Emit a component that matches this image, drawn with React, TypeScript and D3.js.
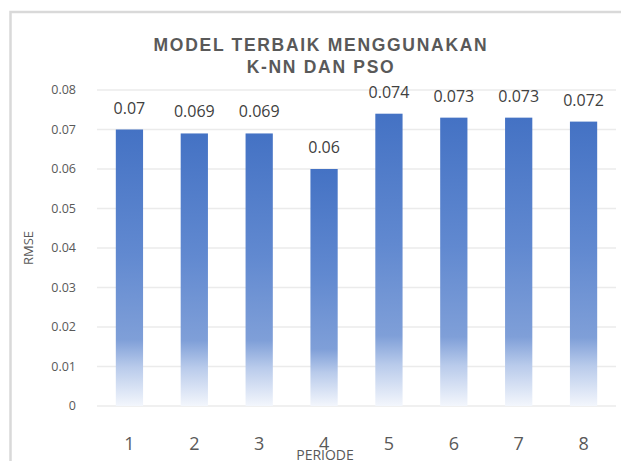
import React from 'react';
import * as d3 from 'd3';

const periods = ['1', '2', '3', '4', '5', '6', '7', '8'];
const rmse = [0.07, 0.069, 0.069, 0.06, 0.074, 0.073, 0.073, 0.072];
const yTicks = [0, 0.01, 0.02, 0.03, 0.04, 0.05, 0.06, 0.07, 0.08];
const titleLines = ['MODEL TERBAIK MENGGUNAKAN', 'K-NN DAN PSO'];

const W = 621;
const H = 461;
const TITLE_FONT = '"Liberation Sans", Arial, sans-serif';
const FONT = '"Open Sans", "Noto Sans", sans-serif';

const App = () => {
  const x = d3.scaleBand().domain(periods).range([97, 616]).paddingInner(0.58).paddingOuter(0.29);
  const y = d3.scaleLinear().domain([0, 0.08]).range([406, 90]);
  const fmt = (v: number) => d3.format('')(+v.toFixed(3));

  return (
    <svg width={W} height={H} style={{ position: 'absolute', left: 0, top: 0, background: '#fff' }}>
      <defs>
        <linearGradient id="barFill" x1="0" y1="0" x2="0" y2="1">
          <stop offset="0%" stopColor="#4472C4" />
          <stop offset="45%" stopColor="#6189d0" />
          <stop offset="76%" stopColor="#7f9fd8" />
          <stop offset="86%" stopColor="#b9cbeb" />
          <stop offset="100%" stopColor="#f3f6fc" />
        </linearGradient>
      </defs>

      {/* chart frame */}
      <rect x={10.5} y={12} width={700} height={600} fill="#fff" stroke="#d9d9d9" strokeWidth={2.5} />

      {/* title */}
      {titleLines.map((t, i) => (
        <text
          key={t}
          x={321}
          y={51 + i * 22}
          textAnchor="middle"
          fontFamily={TITLE_FONT}
          fontWeight="bold"
          fontSize={17.5}
          letterSpacing={1.7}
          fill="#595959"
        >
          {t}
        </text>
      ))}

      {/* gridlines + y ticks */}
      {yTicks.map((t) => (
        <g key={t}>
          <line x1={97} x2={616} y1={y(t)} y2={y(t)} stroke="#ebebeb" strokeWidth={1.5} />
          <text x={76} y={y(t)} dy="0.35em" textAnchor="end" fontFamily={FONT} fontSize={12.5} fill="#595959">
            {fmt(t)}
          </text>
        </g>
      ))}

      {/* bars */}
      {periods.map((p, i) => (
        <rect
          key={p}
          x={x(p)}
          y={y(rmse[i])}
          width={x.bandwidth()}
          height={y(0) - y(rmse[i])}
          fill="url(#barFill)"
        />
      ))}

      {/* data labels */}
      {periods.map((p, i) => (
        <text
          key={p}
          x={(x(p) as number) + x.bandwidth() / 2}
          y={y(rmse[i]) - 16}
          textAnchor="middle"
          fontFamily={FONT}
          fontSize={16}
          fill="#404040"
        >
          {fmt(rmse[i])}
        </text>
      ))}

      {/* x tick labels */}
      {periods.map((p) => (
        <text
          key={p}
          x={(x(p) as number) + x.bandwidth() / 2}
          y={450}
          textAnchor="middle"
          fontFamily={FONT}
          fontSize={18}
          fill="#595959"
        >
          {p}
        </text>
      ))}

      {/* axis titles */}
      <text x={325} y={460} textAnchor="middle" fontFamily={FONT} fontSize={14} fill="#595959">
        PERIODE
      </text>
      <text
        transform="translate(33,248) rotate(-90)"
        textAnchor="middle"
        fontFamily={FONT}
        fontSize={13}
        fill="#595959"
      >
        RMSE
      </text>
    </svg>
  );
};

export default App;
